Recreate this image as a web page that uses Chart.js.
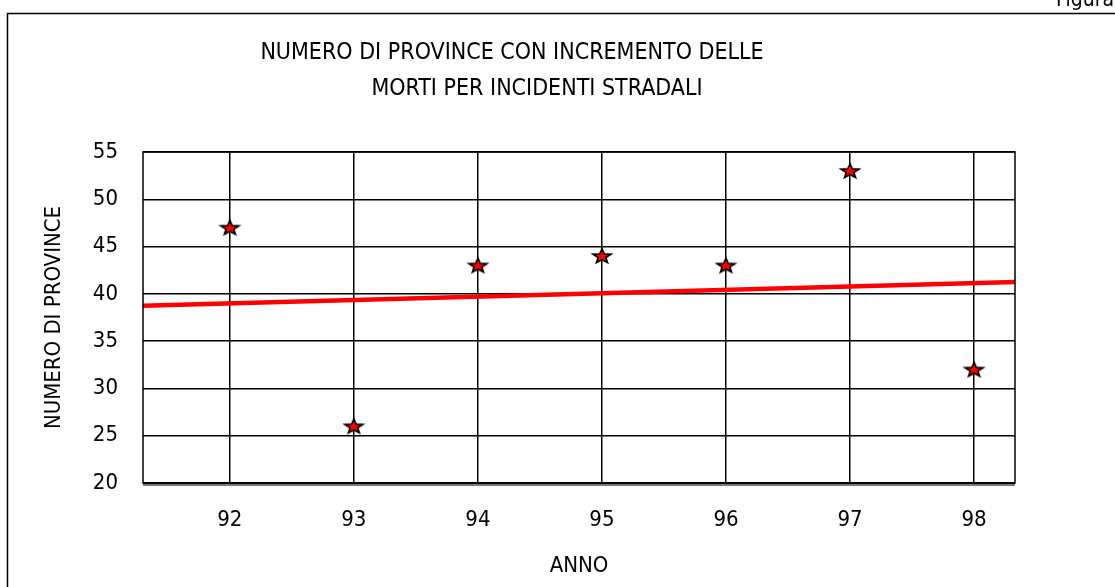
<!DOCTYPE html>
<html>
<head>
<meta charset="utf-8">
<script src="https://cdn.jsdelivr.net/npm/chart.js@4.4.1/dist/chart.umd.min.js"></script>
<style>
  html, body { margin: 0; padding: 0; background: #fff; }
  #wrap { width: 1115px; height: 587px; position: relative; }
</style>
</head>
<body>
<div id="wrap"><canvas id="chart"></canvas></div>
<script>
// data
const years = [92, 93, 94, 95, 96, 97, 98];
const provinces = [47, 26, 43, 44, 43, 53, 32];
const trendYears = [91.3, 98.33];
const trendValues = [38.75, 41.26];
const titleLines = [
    "NUMERO DI PROVINCE CON INCREMENTO DELLE",
    "MORTI PER INCIDENTI STRADALI"
];

const FONT = "'Liberation Sans Narrow', 'Arial Narrow', 'DejaVu Sans Condensed', sans-serif";


// filled red star with black outline, used as point style
function makeStar() {
    const c = document.createElement("canvas");
    c.width = 24;
    c.height = 22;
    const g = c.getContext("2d");
    g.translate(12, 11.5);
    g.scale(1, 0.8);
    g.beginPath();
    for (let i = 0; i < 10; i++) {
        const r = i % 2 === 0 ? 9.5 : 4;
        const a = -Math.PI / 2 + i * Math.PI / 5;
        g.lineTo(r * Math.cos(a), r * Math.sin(a));
    }
    g.closePath();
    g.fillStyle = "#ff0000";
    g.fill();
    g.setTransform(1, 0, 0, 1, 0, 0);
    g.lineWidth = 1.6;
    g.strokeStyle = "#000";
    g.stroke();
    return c;
}


const decorations = {
    id: "decorations",

    beforeDraw(chart) {
        const ctx = chart.ctx;
        ctx.save();
        ctx.fillStyle = "#fff";
        ctx.fillRect(0, 0, chart.width, chart.height);
        ctx.restore();
    },

    afterDraw(chart) {
        const ctx = chart.ctx;
        const a = chart.chartArea;
        ctx.save();

        // outer frame of the figure
        ctx.strokeStyle = "#000";
        ctx.lineWidth = 1.5;
        ctx.beginPath();
        ctx.moveTo(7.5, 600);
        ctx.lineTo(7.5, 13.5);
        ctx.lineTo(1120, 13.5);
        ctx.stroke();

        ctx.fillStyle = "#000";
        ctx.font = "21px " + FONT;
        ctx.textAlign = "right";
        ctx.textBaseline = "alphabetic";
        ctx.fillText("Figura", 1114, 6);

        // title, two lines
        ctx.font = "23px " + FONT;
        ctx.textAlign = "center";
        ctx.textBaseline = "middle";
        ctx.fillText(titleLines[0], 512, 53);
        ctx.fillText(titleLines[1], 537, 89);

        // plot frame
        ctx.lineWidth = 1.5;
        ctx.strokeRect(a.left, a.top, a.right - a.left, a.bottom - a.top);

        // heavy bottom axis
        ctx.lineWidth = 2;
        ctx.beginPath();
        ctx.moveTo(a.left, a.bottom);
        ctx.lineTo(a.right, a.bottom);
        ctx.stroke();
        ctx.strokeStyle = "#777";
        ctx.beginPath();
        ctx.moveTo(a.left, a.bottom + 2);
        ctx.lineTo(a.right, a.bottom + 2);
        ctx.stroke();

        ctx.restore();
    }
};


new Chart(
    document.getElementById("chart"),
    {
        type: "scatter",

        data: {
            datasets: [
                {
                    label: "Province",
                    data: years.map((y, i) => ({ x: y, y: provinces[i] })),
                    pointStyle: makeStar(),
                    pointRadius: 10,
                    showLine: false
                },
                {
                    type: "line",
                    label: "Tendenza",
                    data: trendYears.map((y, i) => ({ x: y, y: trendValues[i] })),
                    borderColor: "#ff0000",
                    borderWidth: 4.5,
                    pointRadius: 0,
                    fill: false
                }
            ]
        },

        options: {
            responsive: true,
            maintainAspectRatio: false,
            animation: false,
            layout: {
                padding: { top: 152, right: 100, left: 0, bottom: 0 }
            },
            plugins: {
                legend: { display: false },
                tooltip: { enabled: false }
            },
            scales: {
                x: {
                    type: "linear",
                    min: trendYears[0],
                    max: trendYears[1],
                    afterBuildTicks: s => { s.ticks = years.map(v => ({ value: v })); },
                    afterFit: s => { s.height = 104; },
                    grid: { color: "#000", lineWidth: 1.5, drawTicks: false },
                    border: { display: false },
                    ticks: {
                        color: "#000",
                        padding: 24,
                        font: { family: FONT, size: 22 }
                    },
                    title: {
                        display: true,
                        text: "ANNO",
                        color: "#000",
                        padding: { top: 0, bottom: 8 },
                        font: { family: FONT, size: 22 }
                    }
                },
                y: {
                    min: 20,
                    max: 55,
                    ticks: {
                        stepSize: 5,
                        color: "#000",
                        padding: 25,
                        font: { family: FONT, size: 22 }
                    },
                    afterFit: s => { s.width = 143; },
                    grid: { color: "#000", lineWidth: 1.5, drawTicks: false },
                    border: { display: false },
                    title: {
                        display: true,
                        text: "NUMERO DI PROVINCE",
                        color: "#000",
                        padding: { top: 41, bottom: 0 },
                        font: { family: FONT, size: 22 }
                    }
                }
            }
        },

        plugins: [decorations]
    }
);
</script>
</body>
</html>
